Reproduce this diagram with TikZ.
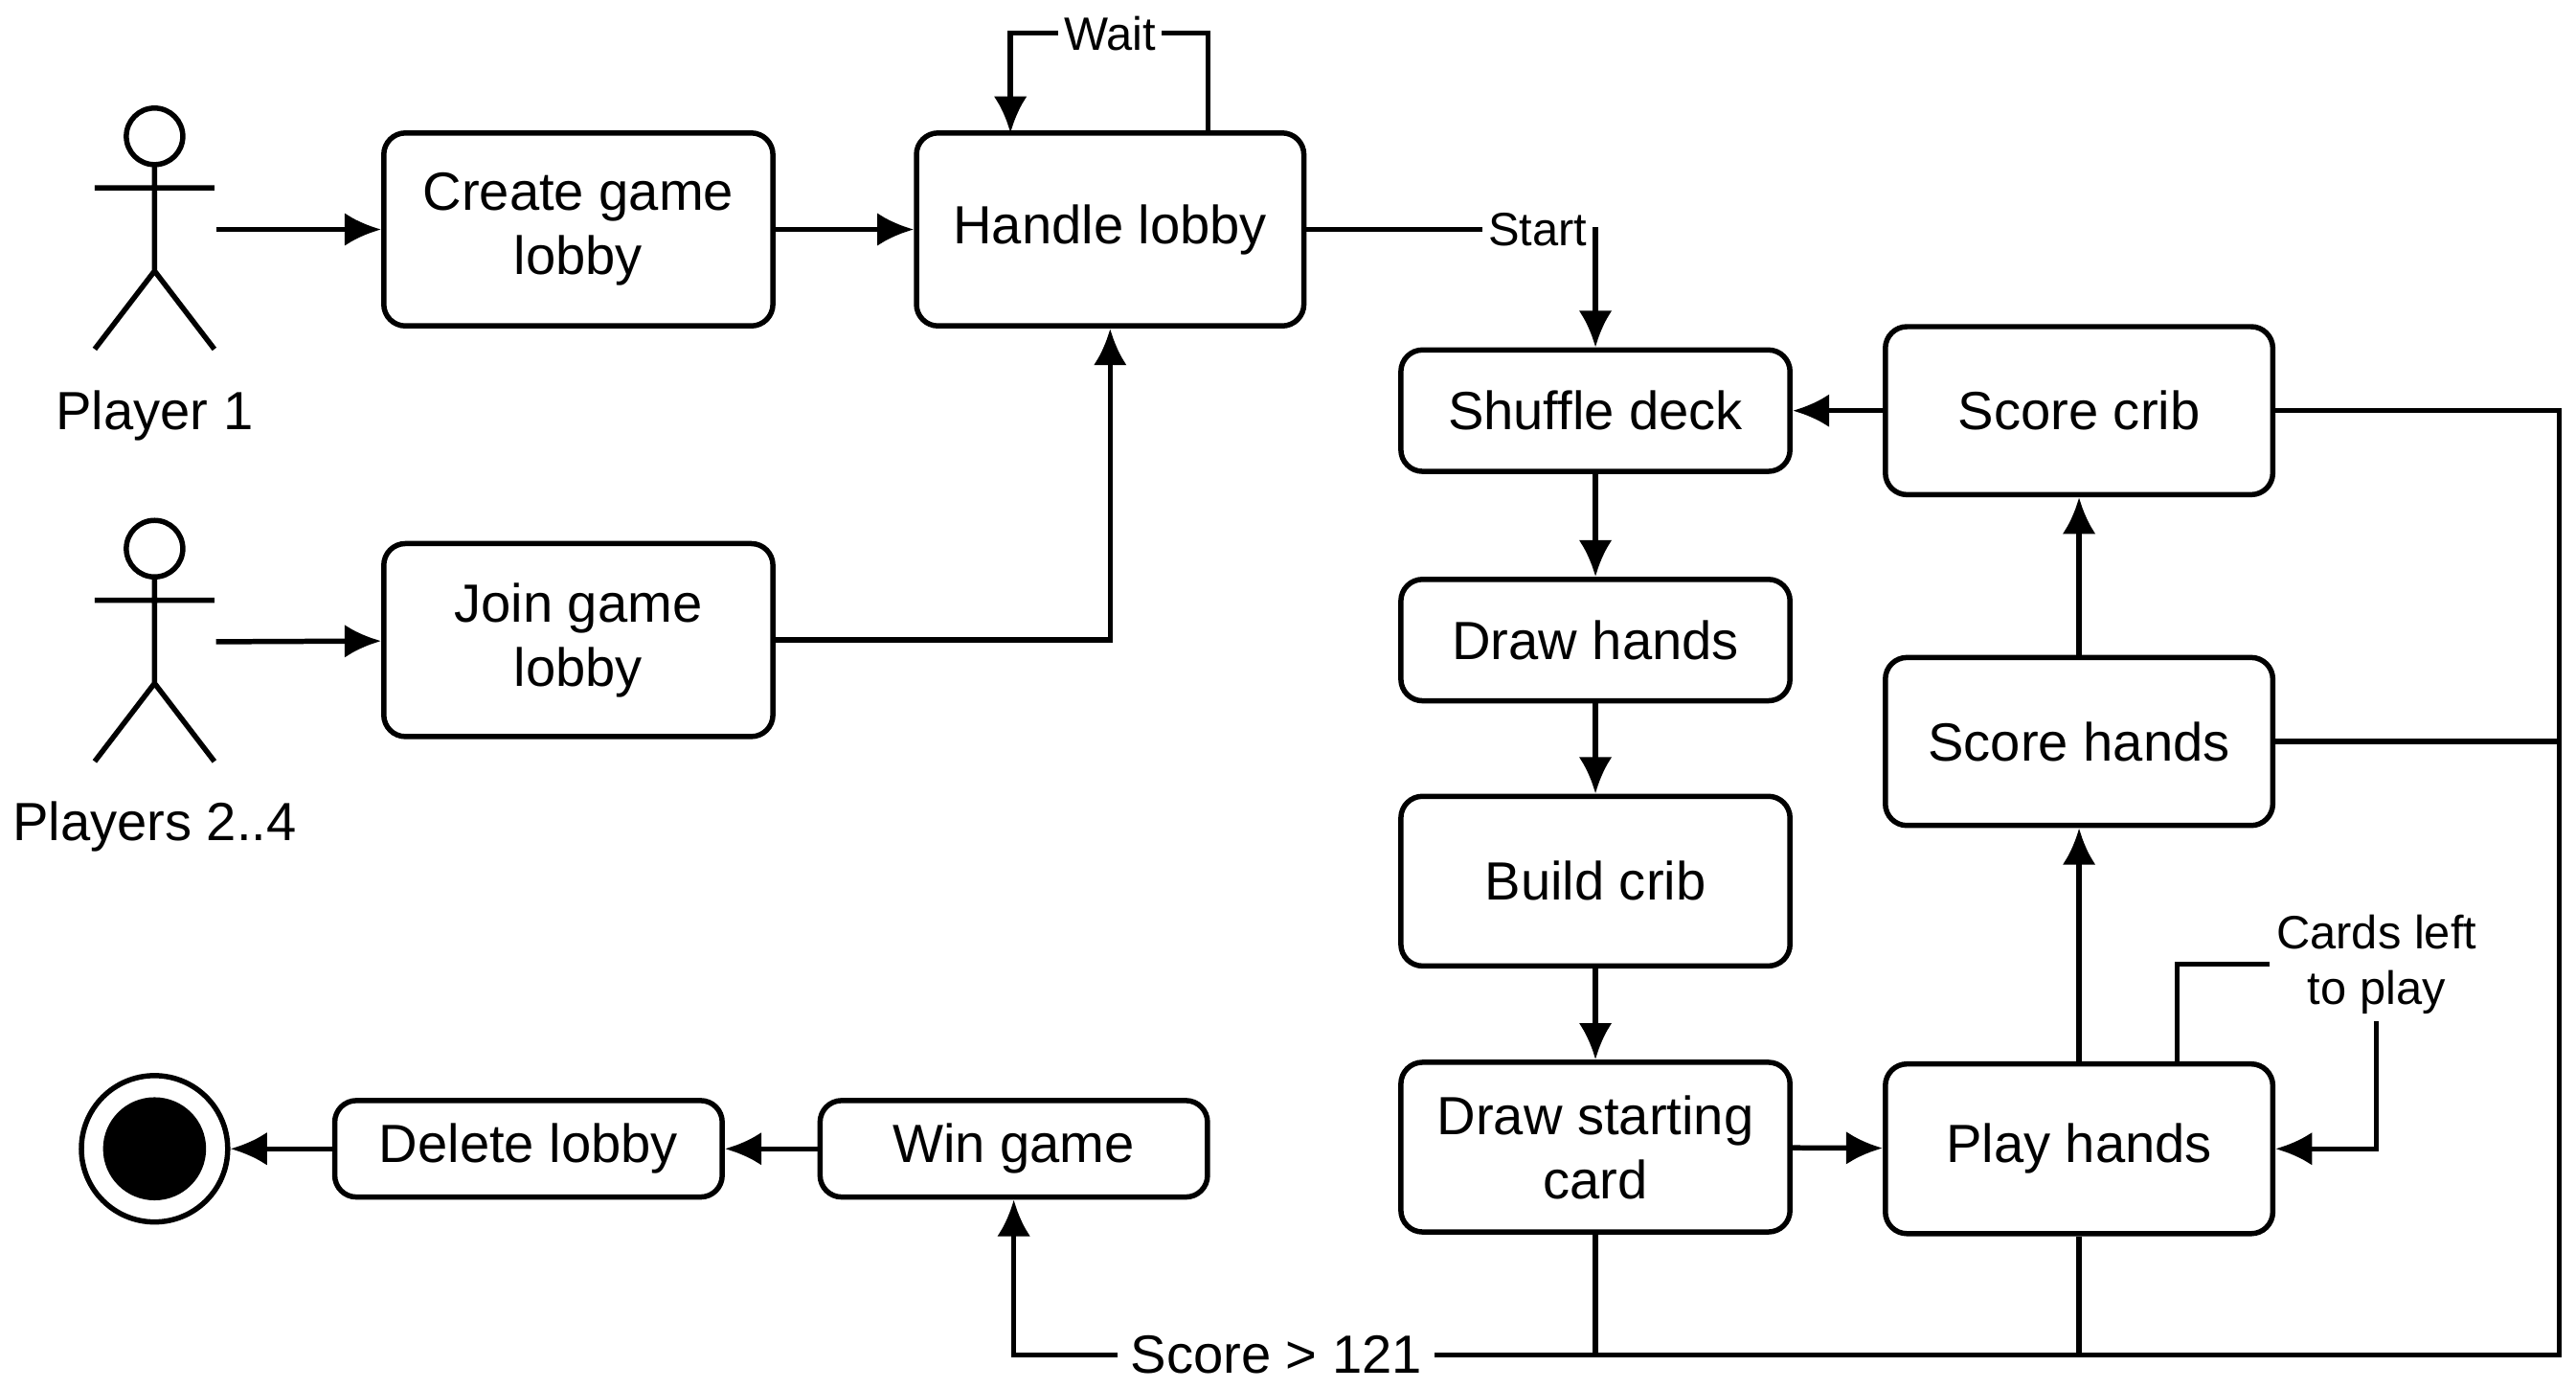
\documentclass[tikz,border=0pt]{standalone}
\usepackage{fontspec}
\setmainfont{Liberation Sans}
\usetikzlibrary{arrows.meta,positioning}
\tikzset{
  state/.style={draw, line width=0.9pt, rounded corners=0.13cm, align=center,
    font=\fontsize{9.2}{11}\selectfont, inner sep=0pt},
  flow/.style={line width=0.9pt, -{Latex[length=0.22cm,width=0.2cm]}},
  line/.style={line width=0.9pt},
  lbl/.style={font=\fontsize{8}{9.5}\selectfont, fill=white, inner sep=1pt, align=center},
}
\begin{document}
\begin{tikzpicture}[x=0.01cm,y=-0.01cm]
\useasboundingbox (0,0) rectangle (1550,835);
% actors
\foreach \n/\y in {p1/82,p2/330}{
  \draw[line] (93,\y) circle (17);
  \draw[line] (93,\y+17) -- (93,\y+81) (57,\y+31) -- (129,\y+31)
    (57,\y+128) -- (93,\y+81) -- (129,\y+128);
  \coordinate (\n) at (130,\y+56);
}
\node[font=\fontsize{9.2}{11}\selectfont] at (93,250) {Player 1};
\node[font=\fontsize{9.2}{11}\selectfont] at (93,497) {Players 2..4};
% states
\node[state, minimum width=2.34cm, minimum height=1.16cm] (create) at (348,138) {Create game\\lobby};
\node[state, minimum width=2.33cm, minimum height=1.16cm] (handle) at (668,138) {Handle lobby};
\node[state, minimum width=2.34cm, minimum height=1.16cm] (join) at (348,385) {Join game\\lobby};
\node[state, minimum width=2.34cm, minimum height=0.73cm] (shuffle) at (960,247) {Shuffle deck};
\node[state, minimum width=2.34cm, minimum height=0.73cm] (drawh) at (960,385) {Draw hands};
\node[state, minimum width=2.34cm, minimum height=1.02cm] (crib) at (960,530) {Build crib};
\node[state, minimum width=2.34cm, minimum height=1.02cm] (start) at (960,690) {Draw starting\\card};
\node[state, minimum width=2.33cm, minimum height=1.01cm] (scrib) at (1251,247) {Score crib};
\node[state, minimum width=2.33cm, minimum height=1.01cm] (shands) at (1251,446) {Score hands};
\node[state, minimum width=2.33cm, minimum height=1.02cm] (play) at (1251,691) {Play hands};
\node[state, minimum width=2.33cm, minimum height=0.58cm] (win) at (610,691) {Win game};
\node[state, minimum width=2.33cm, minimum height=0.58cm] (delete) at (318,691) {Delete lobby};
\node[draw, line width=0.9pt, circle, minimum size=0.88cm] (end) at (93,691) {};
\fill (end) circle (31);
% connectors
\draw[flow] (p1) -- (create);
\draw[flow] (create) -- (handle);
\draw[flow] (p2) -- (join);
\draw[flow] (join.east) -| (handle.south);
\coordinate (wa) at (727,80);
\coordinate (wb) at (608,80);
\draw[flow] (wa) |- (668,20) node[lbl] {Wait} -| (wb);
\draw[flow] (handle.east) -| (shuffle.north) node[lbl, pos=0.4] {Start};
\draw[flow] (shuffle) -- (drawh);
\draw[flow] (drawh) -- (crib);
\draw[flow] (crib) -- (start);
\draw[flow] (start) -- (play);
\draw[flow] (play) -- (shands);
\draw[flow] (shands) -- (scrib);
\draw[flow] (scrib) -- (shuffle);
\node[lbl] (left) at (1430,580) {Cards left\\to play};
\draw[line] (1310,640) |- (left.west);
\draw[flow] (left.south) |- (play.east);
\node[font=\fontsize{9.2}{11}\selectfont, inner sep=2pt] (score) at (768,815) {Score > 121};
\coordinate (rc) at (1540,815);
\draw[line] (scrib.east) -| (rc) -- (score.east);
\draw[line] (shands.east) -- (1540,446);
\draw[line] (play.south) -- (1251,815);
\draw[line] (start.south) -- (960,815);
\draw[flow] (score.west) -| (win.south);
\draw[flow] (win) -- (delete);
\draw[flow] (delete) -- (end);
\end{tikzpicture}
\end{document}
